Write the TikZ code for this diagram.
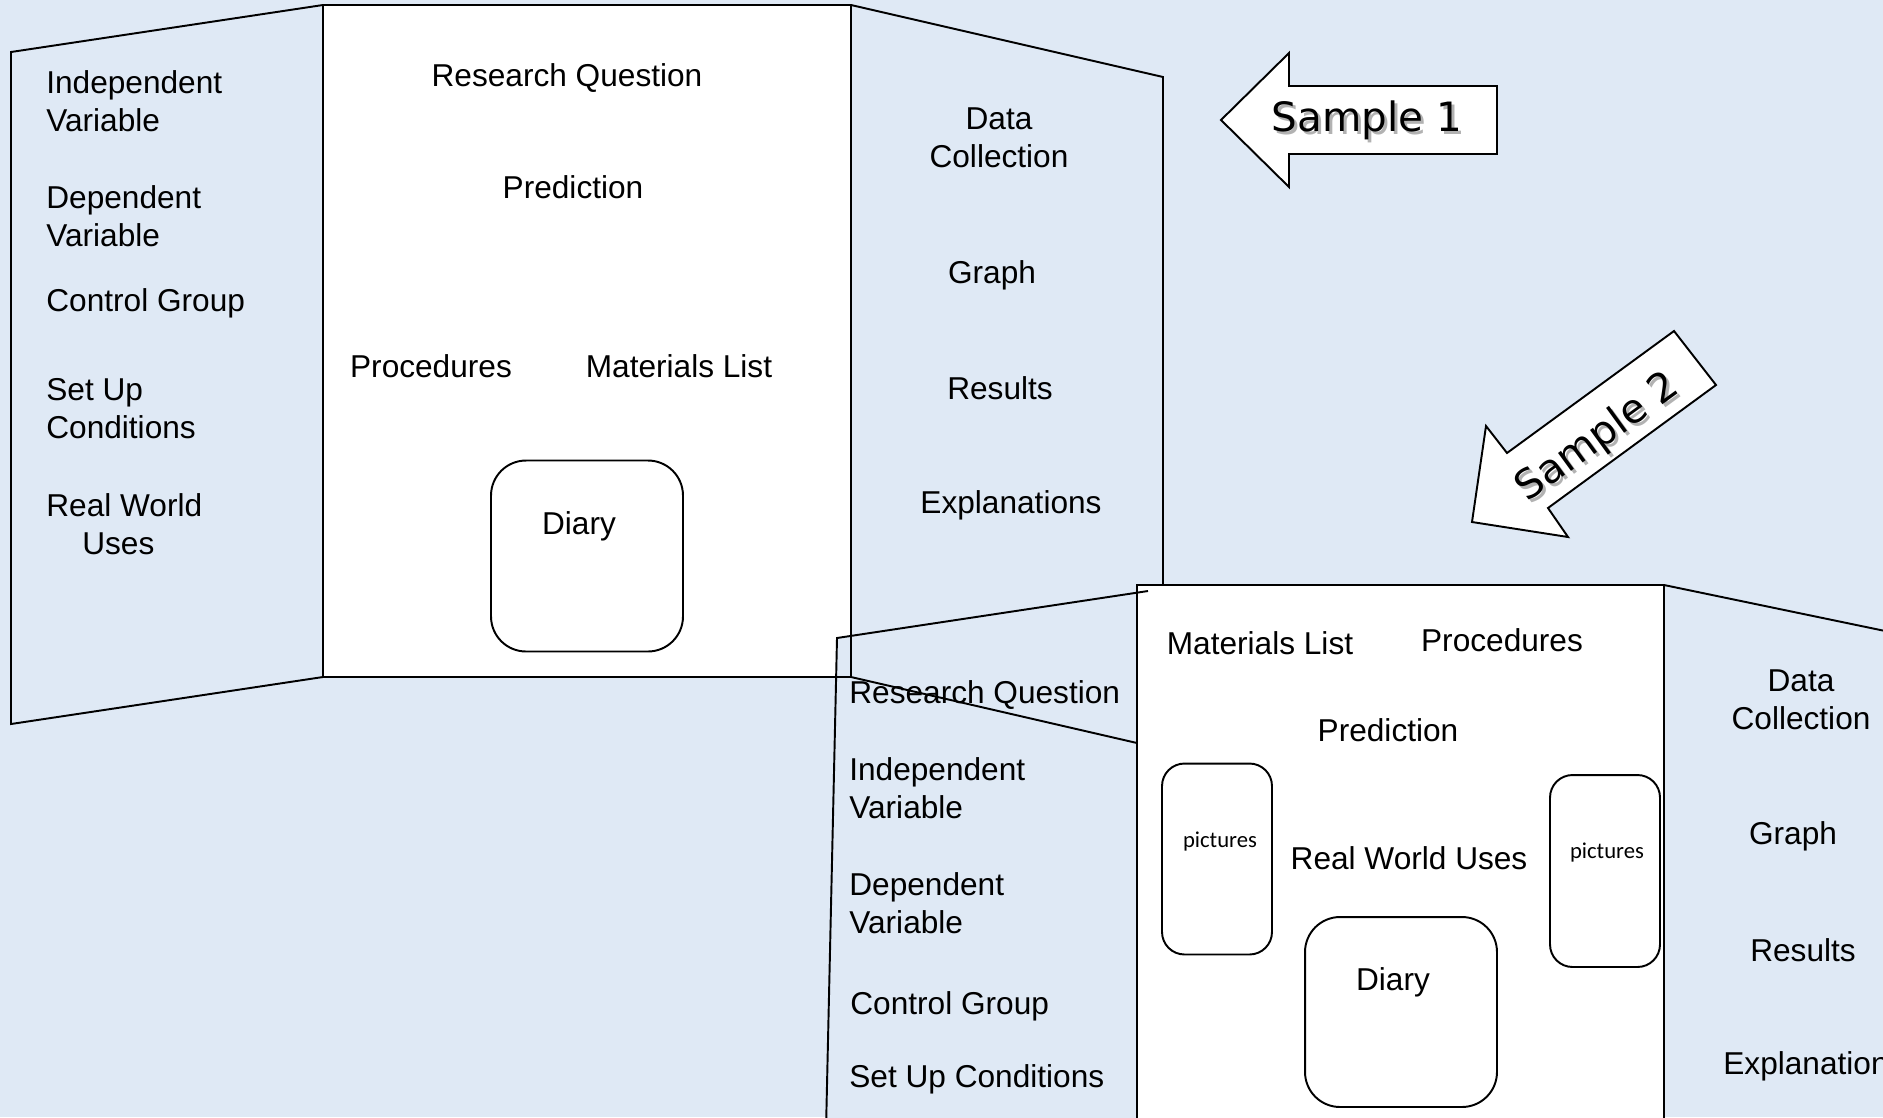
\documentclass[tikz,border=0pt]{standalone}
\usepackage{fontspec}
\setmainfont{Liberation Sans}
\newfontfamily\tagfont{DejaVu Sans}
\newfontfamily\picfont{Carlito}
\definecolor{boardbg}{RGB}{223,233,245}

\begin{document}
\begin{tikzpicture}[x=0.02cm, y=-0.02cm,
  edge/.style={draw=black, line width=1.1pt, line join=miter},
  txt/.style={inner sep=0pt, font=\fontsize{18}{21.6}\selectfont},
  lefttxt/.style={txt, anchor=west, align=left},
  midtxt/.style={txt, align=center},
  roundbox/.style={draw, line width=1.1pt, fill=white, rounded corners=0.7cm, inner sep=0pt},
  pictxt/.style={inner sep=0pt, font=\picfont\fontsize{12.9}{15}\selectfont},
  bigarrow/.style={draw, line width=1.1pt, fill=white, line join=miter},
  tagtxt/.style={inner sep=0pt, font=\tagfont\fontsize{23}{27}\selectfont},
  tagshadow/.style={tagtxt, text=black!50, opacity=0.6}]

\useasboundingbox (0,0) rectangle (1883,1117);
\clip (0,0) rectangle (1883,1117);
\fill[boardbg] (0,0) rectangle (1883,1117);

% fills first
\fill[white] (323,5) rectangle (851,677);
\fill[boardbg] (837,638) -- (1137,593) -- (1137,1130) -- (826,1130) -- cycle;

% sample 1 board
\draw[edge] (323,5) -- (11,52) -- (11,724) -- (323,677);
\draw[edge] (323,5) rectangle (851,677);
\draw[edge] (851,5) -- (1163,77) -- (1163,749) -- (851,677);

% sample 2 board
\draw[edge, fill=white] (1137,1130) -- (1137,585) -- (1664,585) -- (1664,1130);
\draw[edge] (826,1130) -- (837,638) -- (1148,591);
\draw[edge] (1664,585) -- (1890,632);

% sample 1 left
\node[lefttxt] (indep1) at (46,101) {Independent\\Variable};
\node[lefttxt] (dep1) at (46,216) {Dependent\\Variable};
\node[lefttxt] (ctrl1) at (46,303) {Control Group};
\node[lefttxt] (setup1) at (46,409) {Set Up\\Conditions};
\node[lefttxt] (real1) at (46,524) {Real World\\\hspace*{0.72cm}Uses};

% sample 1 middle
\node[midtxt] (rq1) at (567,78) {Research Question};
\node[midtxt] (pred1) at (573,187) {Prediction};
\node[midtxt] (proc1) at (431,366) {Procedures};
\node[midtxt] (mat1) at (679,366) {Materials List};
\node[roundbox, minimum width=3.84cm, minimum height=3.82cm] (diary1) at (587,556) {};
\node[midtxt] (diarytxt1) at (579,526) {Diary};

% sample 1 right
\node[midtxt] (data1) at (999,138) {Data\\Collection};
\node[midtxt] (graph1) at (992,275) {Graph};
\node[midtxt] (res1) at (1000,388) {Results};
\node[midtxt] (expl1) at (1011,505) {Explanations};

% sample 2 left
\node[lefttxt] (rq2) at (849,695) {Research Question};
\node[lefttxt] (indep2) at (849,788) {Independent\\Variable};
\node[lefttxt] (dep2) at (849,903) {Dependent\\Variable};
\node[lefttxt] (ctrl2) at (850,1006) {Control Group};
\node[lefttxt] (setup2) at (849,1079) {Set Up Conditions};

% sample 2 middle
\node[midtxt] (mat2) at (1260,643) {Materials List};
\node[midtxt] (proc2) at (1502,640) {Procedures};
\node[midtxt] (pred2) at (1388,730) {Prediction};
\node[midtxt] (real2) at (1409,858) {Real World Uses};
\node[roundbox, minimum width=2.2cm, minimum height=3.82cm, rounded corners=0.45cm] (pic2a) at (1217,859) {};
\node[pictxt] (pictxt2a) at (1220,842) {pictures};
\node[roundbox, minimum width=2.2cm, minimum height=3.84cm, rounded corners=0.45cm] (pic2b) at (1605,871) {};
\node[pictxt] (pictxt2b) at (1607,853) {pictures};
\node[roundbox, minimum width=3.84cm, minimum height=3.8cm] (diary2) at (1401,1012) {};
\node[midtxt] (diarytxt2) at (1393,982) {Diary};

% sample 2 right
\node[midtxt] (data2) at (1801,700) {Data\\Collection};
\node[midtxt] (graph2) at (1793,836) {Graph};
\node[midtxt] (res2) at (1803,950) {Results};
\node[lefttxt] (expl2) at (1723,1066) {Explanations};

% tags
\draw[bigarrow] (1221,120) -- (1289,53) -- (1289,86) -- (1497,86) -- (1497,154)
  -- (1289,154) -- (1289,187) -- cycle;
\node[tagshadow] at (1370,123) {Sample 1};
\node[tagtxt] (tag1) at (1367,120) {Sample 1};

\draw[bigarrow] (1472,522) -- (1486,426) -- (1507,453) -- (1674,331) -- (1716,385)
  -- (1548,508) -- (1568,537) -- cycle;
\node[tagshadow, rotate=36] at (1601,441) {Sample 2};
\node[tagtxt, rotate=36] (tag2) at (1598,438) {Sample 2};
\end{tikzpicture}
\end{document}
